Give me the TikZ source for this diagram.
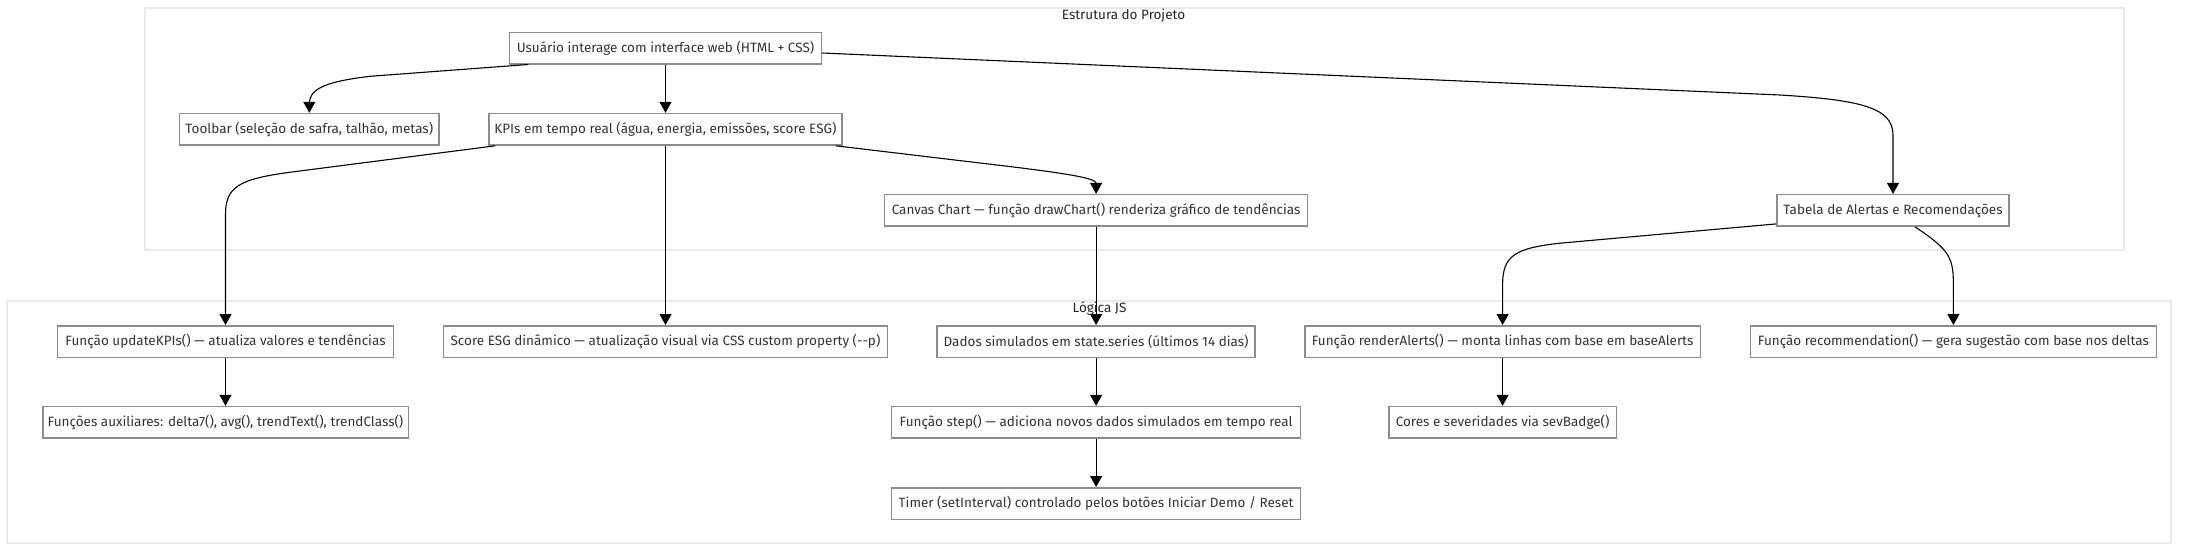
\documentclass[tikz,border=0pt]{standalone}
\usepackage{fontspec}
\setmainfont{Fira Sans}
\usetikzlibrary{arrows.meta,calc}
\definecolor{nodeborder}{RGB}{140,140,140}
\definecolor{clusterborder}{RGB}{234,234,234}
\definecolor{textcol}{RGB}{51,51,51}
\newcommand{\fs}{\fontsize{13.5pt}{16pt}\selectfont}
\tikzset{
  box/.style={draw=nodeborder, line width=1.5pt, fill=white, text=textcol, inner sep=0pt, minimum height=31.5pt, font=\fs},
  cluster/.style={draw=clusterborder, line width=2pt, fill=white},
  ctitle/.style={text=black!85, font=\fs, inner sep=0pt},
  edge/.style={draw=black, line width=1.1pt, -{Triangle[length=11pt,width=12pt]}},
}
\begin{document}
\begin{tikzpicture}[x=1pt,y=-1pt]
\useasboundingbox (0,0) rectangle (2198,552);
% clusters
\draw[cluster] (145,7.5) rectangle (2124,250);
\node[ctitle] (t1) at (1123.5,15.5) {Estrutura do Projeto};
\draw[cluster] (7,300.5) rectangle (2171,543);
\node[ctitle] (t2) at (1099.5,308.5) {Lógica JS};
% nodes
\node[box, minimum width=312pt] (A) at (665.5,48) {Usuário interage com interface web (HTML + CSS)};
\node[box, minimum width=259.5pt] (B) at (309.3,129.3) {Toolbar (seleção de safra, talhão, metas)};
\node[box, minimum width=353pt] (C) at (665.5,129.3) {KPIs em tempo real (água, energia, emissões, score ESG)};
\node[box, minimum width=423pt] (D) at (1096.1,210.4) {Canvas Chart — função drawChart() renderiza gráfico de tendências};
\node[box, minimum width=232pt] (E) at (1893,210.4) {Tabela de Alertas e Recomendações};
\node[box, minimum width=336pt] (F) at (225.5,341.5) {Função updateKPIs() — atualiza valores e tendências};
\node[box, minimum width=444.4pt] (G) at (665.5,341.5) {Score ESG dinâmico — atualização visual via CSS custom property (-{}-p)};
\node[box, minimum width=318pt] (H) at (1096.1,341.5) {Dados simulados em state.series (últimos 14 dias)};
\node[box, minimum width=395.7pt] (I) at (1502.6,341.5) {Função renderAlerts() — monta linhas com base em baseAlerts};
\node[box, minimum width=406.2pt] (J) at (1953.4,341.5) {Função recommendation() — gera sugestão com base nos deltas};
\node[box, minimum width=365.5pt] (K) at (225.5,422.3) {Funções auxiliares: delta7(), avg(), trendText(), trendClass()};
\node[box, minimum width=409pt] (L) at (1096.1,422.3) {Função step() — adiciona novos dados simulados em tempo real};
\node[box, minimum width=227.3pt] (M) at (1502.6,422.3) {Cores e severidades via sevBadge()};
\node[box, minimum width=409pt] (N) at (1096.1,503.5) {Timer (setInterval) controlado pelos botões Iniciar Demo / Reset};
% edges
\draw[edge] ($(A.south west)+(19.5,0)$) -- (370,76.3) .. controls (322,82) and (309.3,90) .. (309.3,104) -- (B.north);
\draw[edge] (A.south) -- (C.north);
\draw[edge] ($(A.east)+(0,5)$) -- (1780,95) .. controls (1862,100) and (1893,108) .. (1893,135) -- (E.north);
\draw[edge] ($(C.south west)+(7,0)$) -- (292,172) .. controls (238,179) and (225.5,187) .. (225.5,215) -- (F.north);
\draw[edge] (C.south) -- (G.north);
\draw[edge] ($(C.south east)+(-7,0)$) -- (975,162.4) .. controls (1066,173) and (1096.1,178) .. (D.north);
\draw[edge] ($(E.south west)+(0,-3)$) -- (1562,243) .. controls (1514,248) and (1502.6,256) .. (1502.6,285) -- (I.north);
\draw[edge] ($(E.south)+(22,0)$) .. controls (1950,250) and (1953.4,258) .. (1953.4,285) -- (J.north);
\draw[edge] (D.south) -- (H.north);
\draw[edge] (F.south) -- (K.north);
\draw[edge] (H.south) -- (L.north);
\draw[edge] (L.south) -- (N.north);
\draw[edge] (I.south) -- (M.north);
\end{tikzpicture}
\end{document}
